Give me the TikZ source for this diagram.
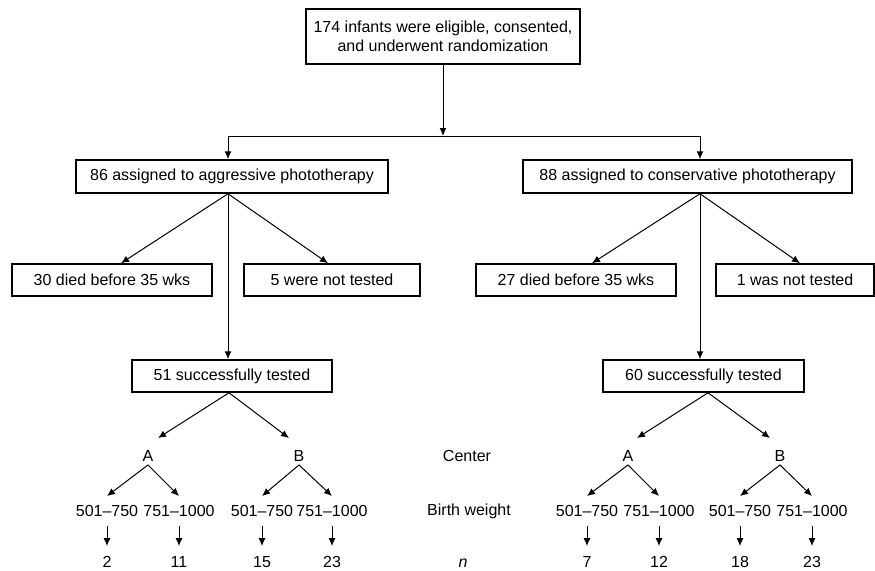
\documentclass[tikz,border=0pt]{standalone}
\usepackage{fontspec}
\setmainfont{Liberation Sans}
\usetikzlibrary{arrows.meta}

\begin{document}
\begin{tikzpicture}[x=1pt, y=-1pt,
    every node/.style={inner sep=0, font=\fontsize{16}{19.5}\selectfont},
    box/.style={draw, line width=1.5pt, minimum height=32pt},
    lbl/.style={text height=11.5pt, text depth=0pt},
    arr/.style={->, >={Latex[length=8pt, width=7pt]}, line width=1pt}]
  \useasboundingbox (0,0) rectangle (875,570);

  \node[box, minimum width=274pt, minimum height=55pt, align=center]
    (all) at (443, 36.5) {174 infants were eligible, consented,\\and underwent randomization};

  \node[box, minimum width=312pt, minimum height=33pt]
    (aggr) at (232, 176.5) {86 assigned to aggressive phototherapy};
  \node[box, minimum width=329pt, minimum height=33pt]
    (cons) at (687.5, 176.5) {88 assigned to conservative phototherapy};

  \node[box, minimum width=200pt] (diedA) at (112, 280) {30 died before 35 wks};
  \node[box, minimum width=176pt] (notA) at (332, 280) {5 were not tested};
  \node[box, minimum width=200pt] (diedB) at (576, 280) {27 died before 35 wks};
  \node[box, minimum width=158pt] (notB) at (795, 280) {1 was not tested};

  \node[box, minimum width=200pt] (testA) at (232, 376) {51 successfully tested};
  \node[box, minimum width=201pt] (testB) at (703.5, 376) {60 successfully tested};

  % centers
  \node[lbl] (cA1) at (148, 456) {A};
  \node[lbl] (cB1) at (299, 456) {B};
  \node[lbl] (cA2) at (628, 456) {A};
  \node[lbl] (cB2) at (780, 456) {B};
  \node (center) at (467, 456) {Center};

  % birth weights
  \node[lbl] (wA1a) at (107, 511) {501–750};
  \node[lbl] (wA1b) at (179, 511) {751–1000};
  \node[lbl] (wB1a) at (262, 511) {501–750};
  \node[lbl] (wB1b) at (332, 511) {751–1000};
  \node[lbl] (wA2a) at (587, 511) {501–750};
  \node[lbl] (wA2b) at (659, 511) {751–1000};
  \node[lbl] (wB2a) at (740, 511) {501–750};
  \node[lbl] (wB2b) at (812, 511) {751–1000};
  \node (bw) at (469, 511) {Birth weight};

  % counts
  \node[lbl] (nA1a) at (107, 562) {2};
  \node[lbl] (nA1b) at (179, 562) {11};
  \node[lbl] (nB1a) at (262, 562) {15};
  \node[lbl] (nB1b) at (332, 562) {23};
  \node[lbl] (nA2a) at (587, 562) {7};
  \node[lbl] (nA2b) at (659, 562) {12};
  \node[lbl] (nB2a) at (740, 562) {18};
  \node[lbl] (nB2b) at (812, 562) {23};
  \node[lbl] (n) at (463, 562) {\itshape n};

  \coordinate (split) at (443, 136);

  \draw[arr] (all) -- (split);
  \draw[arr] (split) -| ([xshift=-4pt]aggr.north);
  \draw[arr] (split) -| ([xshift=12.5pt]cons.north);

  \path
    ([xshift=-4pt]aggr.south) edge[arr] ([xshift=9pt]diedA.north)
    ([xshift=-4pt]aggr.south) edge[arr] ([xshift=-4pt]notA.north)
    ([xshift=-4pt]aggr.south) edge[arr] ([xshift=-4pt]testA.north);

  \path
    ([xshift=12.5pt]cons.south) edge[arr] ([xshift=16pt]diedB.north)
    ([xshift=12.5pt]cons.south) edge[arr] ([xshift=5pt]notB.north)
    ([xshift=12.5pt]cons.south) edge[arr] ([xshift=-3.5pt]testB.north);

  \path
    ([xshift=-3pt]testA.south) edge[arr] ([xshift=10pt, yshift=12pt]cA1.north)
    ([xshift=-3pt]testA.south) edge[arr] ([xshift=-10pt, yshift=12pt]cB1.north)
    ([xshift=4.5pt]testB.south) edge[arr] ([xshift=9pt, yshift=12pt]cA2.north)
    ([xshift=4.5pt]testB.south) edge[arr] ([xshift=-10pt, yshift=12pt]cB2.north);

  \path
    ([yshift=-3pt]cA1.south) edge[arr] ([yshift=9pt]wA1a.north)
    ([yshift=-3pt]cA1.south) edge[arr] ([yshift=9pt]wA1b.north)
    ([yshift=-3pt]cB1.south) edge[arr] ([yshift=9pt]wB1a.north)
    ([yshift=-3pt]cB1.south) edge[arr] ([yshift=9pt]wB1b.north)
    ([yshift=-3pt]cA2.south) edge[arr] ([yshift=9pt]wA2a.north)
    ([yshift=-3pt]cA2.south) edge[arr] ([yshift=9pt]wA2b.north)
    ([yshift=-3pt]cB2.south) edge[arr] ([yshift=9pt]wB2a.north)
    ([yshift=-3pt]cB2.south) edge[arr] ([yshift=9pt]wB2b.north);

  \path
    ([yshift=-9pt]wA1a.south) edge[arr] ([yshift=10pt]nA1a.north)
    ([yshift=-9pt]wA1b.south) edge[arr] ([yshift=10pt]nA1b.north)
    ([yshift=-9pt]wB1a.south) edge[arr] ([yshift=10pt]nB1a.north)
    ([yshift=-9pt]wB1b.south) edge[arr] ([yshift=10pt]nB1b.north)
    ([yshift=-9pt]wA2a.south) edge[arr] ([yshift=10pt]nA2a.north)
    ([yshift=-9pt]wA2b.south) edge[arr] ([yshift=10pt]nA2b.north)
    ([yshift=-9pt]wB2a.south) edge[arr] ([yshift=10pt]nB2a.north)
    ([yshift=-9pt]wB2b.south) edge[arr] ([yshift=10pt]nB2b.north);
\end{tikzpicture}
\end{document}
